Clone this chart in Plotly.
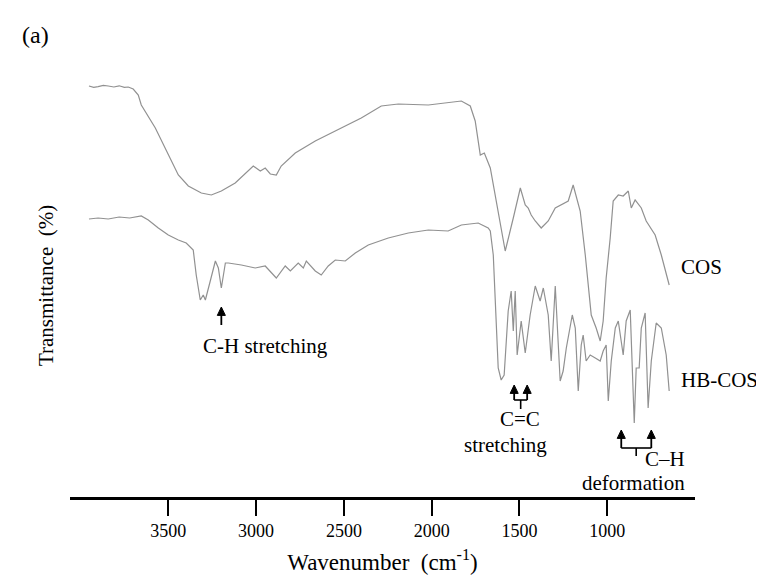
import plotly.graph_objects as go

# ---- data (wavenumber in cm-1, transmittance in arbitrary %-like units) ----
cos_wn = [3952, 3925, 3900, 3870, 3842, 3810, 3780, 3750, 3728, 3700, 3671, 3654, 3574, 3500,
          3443, 3386, 3312, 3255, 3198, 3119, 3044, 3016, 2976, 2948, 2919, 2885, 2857, 2777,
          2663, 2515, 2401, 2287, 2190, 2019, 1831, 1780, 1752, 1723, 1700, 1666, 1621, 1581,
          1535, 1495, 1467, 1450, 1433, 1410, 1376, 1336, 1296, 1262, 1222, 1194, 1154, 1125,
          1091, 1063, 1040, 1023, 1006, 983, 966, 937, 909, 880, 863, 841, 806, 778, 727, 692,
          653, 647]
cos_t = [102.75, 102.4, 102.6, 102.9, 102.75, 102.5, 102.8, 102.4, 102.5, 102.0, 100.5, 98.0,
         92.25, 85.5, 80.5, 77.75, 76.0, 75.5, 76.5, 78.5, 81.5, 82.75, 81.5, 82.25, 80.75, 80.5,
         82.75, 86.0, 89.0, 92.25, 94.75, 97.75, 98.25, 98.0, 99.0, 97.75, 94.0, 85.5, 86.0,
         82.25, 71.5, 61.5, 69.75, 77.25, 73.0, 72.25, 70.5, 69.0, 67.25, 69.0, 72.25, 73.0,
         74.0, 78.0, 71.5, 60.5, 45.5, 42.25, 39.0, 44.0, 54.75, 64.75, 74.0, 75.5, 75.25, 76.5,
         72.25, 74.25, 72.25, 69.0, 65.5, 60.5, 54.0, 53.0]

hb_wn = [3952, 3900, 3842, 3780, 3720, 3654, 3614, 3557, 3500, 3443, 3398, 3358, 3341, 3318,
         3301, 3289, 3261, 3232, 3215, 3198, 3175, 3158, 3084, 3005, 2948, 2885, 2834, 2805,
         2760, 2731, 2714, 2663, 2629, 2589, 2549, 2492, 2435, 2361, 2247, 2133, 2019, 1906,
         1831, 1735, 1678, 1666, 1649, 1638, 1621, 1604, 1587, 1564, 1547, 1535, 1524, 1513,
         1490, 1467, 1439, 1410, 1382, 1364, 1336, 1319, 1296, 1268, 1251, 1233, 1211, 1199,
         1182, 1165, 1148, 1137, 1120, 1097, 1068, 1040, 1023, 1006, 994, 977, 954, 937, 909,
         892, 869, 858, 846, 835, 818, 806, 784, 767, 749, 721, 692, 664, 647]
hb_t = [69.5, 69.75, 69.5, 70.0, 69.75, 70.25, 69.25, 67.25, 65.5, 64.25, 63.5, 61.75, 55.5,
        49.25, 50.5, 49.25, 54.0, 59.0, 57.25, 52.25, 58.5, 58.5, 58.0, 57.25, 57.75, 54.75,
        57.75, 56.5, 58.5, 57.25, 59.0, 56.5, 55.5, 57.75, 59.25, 59.0, 61.0, 63.0, 64.75, 66.0,
        66.75, 66.5, 68.0, 68.5, 67.25, 66.5, 60.5, 50.5, 32.25, 29.25, 30.5, 46.5, 51.5, 41.5,
        51.5, 35.5, 44.0, 36.0, 45.5, 52.75, 49.0, 52.25, 45.5, 34.0, 52.75, 29.0, 31.5, 37.25,
        42.25, 45.5, 42.25, 26.5, 38.0, 40.5, 34.0, 35.5, 34.75, 34.0, 36.5, 38.0, 24.0, 34.0,
        42.25, 44.0, 35.5, 44.0, 46.75, 34.0, 18.5, 32.25, 32.25, 42.25, 46.0, 22.25, 34.0,
        43.5, 42.25, 35.5, 26.5]

tick_vals = [3500, 3000, 2500, 2000, 1500, 1000]
tick_text = ["3500", "3000", "2500", "2000", "1500", "1000"]

# annotation anchor points (wavenumber, transmittance)
ch_str_wn, ch_str_tip = 3198, 47.5
cc_wn = [1530, 1456]
cc_tip = 28.0
chd_wn = [920, 749]
chd_tip = 16.75

FONT = "Liberation Serif, Times New Roman, serif"
GRAY = "#919191"

fig = go.Figure()
fig.add_trace(go.Scatter(x=cos_wn, y=cos_t, mode="lines",
                         line=dict(color=GRAY, width=1.2), name="COS", showlegend=False))
fig.add_trace(go.Scatter(x=hb_wn, y=hb_t, mode="lines",
                         line=dict(color=GRAY, width=1.2), name="HB-COS", showlegend=False))

ann = []
def txt(x, y, s, size=21, xref="x", yref="y", xanchor="center", yanchor="middle", angle=0):
    ann.append(dict(x=x, y=y, xref=xref, yref=yref, text=s, showarrow=False,
                    font=dict(family=FONT, size=size, color="black"),
                    xanchor=xanchor, yanchor=yanchor, textangle=angle))

shapes = []
def seg(x0, y0, x1, y1, w=1.6):
    shapes.append(dict(type="line", xref="x", yref="y", x0=x0, y0=y0, x1=x1, y1=y1,
                       line=dict(color="black", width=w)))

def arrow(x, tip, length):
    # shaft
    seg(x, tip - 1.5, x, tip - length, w=1.8)
    # filled head (about 8 px wide, 8 px tall)
    hw = 23.0
    hh = 2.1
    shapes.append(dict(type="path", xref="x", yref="y",
                       path=f"M {x - hw},{tip - hh} L {x},{tip} L {x + hw},{tip - hh} Z",
                       fillcolor="black", line=dict(color="black", width=1)))

# C-H stretching
arrow(ch_str_wn, ch_str_tip, 4.5)
txt(2948, 37.75, "C-H stretching")
# C=C stretching
arrow(cc_wn[0], cc_tip, 3.75)
arrow(cc_wn[1], cc_tip, 3.75)
seg(cc_wn[0], cc_tip - 3.75, cc_wn[1], cc_tip - 3.75)
seg(sum(cc_wn) / 2, cc_tip - 3.75, sum(cc_wn) / 2, cc_tip - 6.0)
txt(1495, 19.5, "C=C")
txt(1581, 13.0, "stretching")
# C-H deformation
arrow(chd_wn[0], chd_tip, 4.5)
arrow(chd_wn[1], chd_tip, 4.5)
seg(chd_wn[0], chd_tip - 4.5, chd_wn[1], chd_tip - 4.5)
seg(835, chd_tip - 4.5, 835, chd_tip - 6.5)
txt(670, 9.5, "C\u2013H")
txt(852, 3.5, "deformation")
# series labels
txt(0.975, 57.5, "COS", size=21, xref="paper", xanchor="left")
txt(0.975, 29.25, "HB-COS", size=21, xref="paper", xanchor="left")
# panel label & y title
txt(-0.08, 1.085, "(a)", size=24, xref="paper", yref="paper", xanchor="left", yanchor="top")
txt(-0.0395, 0.48, "Transmittance\u00a0 (%)", size=21, xref="paper", yref="paper", angle=-90)

fig.update_layout(
    width=764, height=579,
    margin=dict(l=62, r=77, t=49, b=90),
    paper_bgcolor="white", plot_bgcolor="white",
    annotations=ann, shapes=shapes,
    xaxis=dict(range=[4060, 500], tickvals=tick_vals, ticktext=tick_text,
               showgrid=False, zeroline=False, showline=True, linecolor="black", linewidth=2.5,
               ticks="outside", ticklen=16, tickwidth=2, tickcolor="black",
               tickfont=dict(family=FONT, size=18, color="black"),
               title=dict(text="Wavenumber\u00a0 (cm<sup>-1</sup>)", standoff=14,
                          font=dict(family=FONT, size=23, color="black"))),
    yaxis=dict(range=[0, 110], visible=False, showgrid=False, zeroline=False),
)

fig.write_html("out.html")
